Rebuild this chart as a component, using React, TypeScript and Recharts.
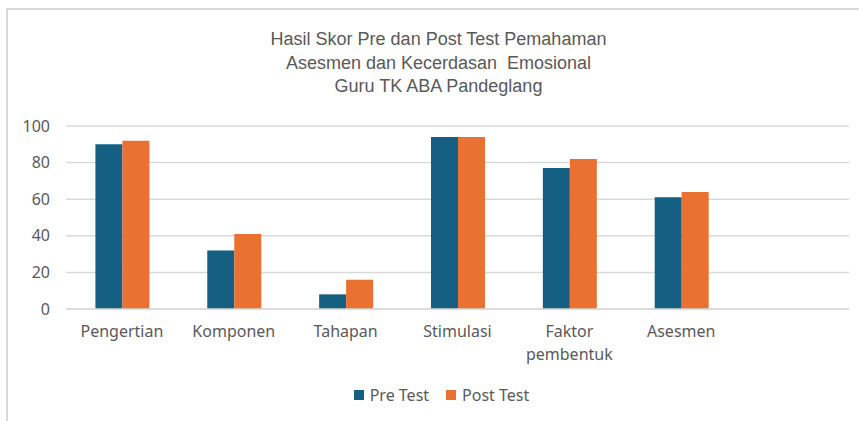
import React from 'react';
import { BarChart, Bar, XAxis, YAxis, CartesianGrid, Legend, Text } from 'recharts';

const categories = ['Pengertian', 'Komponen', 'Tahapan', 'Stimulasi', 'Faktor pembentuk', 'Asesmen', ''];
const preTest = [90, 32, 8, 94, 77, 61, null];
const postTest = [92, 41, 16, 94, 82, 64, null];
const yTicks = [0, 20, 40, 60, 80, 100];
const titleLines = [
  'Hasil Skor Pre dan Post Test Pemahaman',
  'Asesmen dan Kecerdasan  Emosional',
  'Guru TK ABA Pandeglang',
];
const seriesNames = ['Pre Test', 'Post Test'];
const seriesColors = ['#156082', '#E97132'];

const data = categories.map((name, i) => ({ name, pre: preTest[i], post: postTest[i] }));

const TEXT = '#595959';
const GRID = '#d9d9d9';
const FONT = '"Noto Sans", sans-serif';

function CategoryTick(props: any) {
  const { x, y, payload } = props;
  return (
    <Text
      x={x}
      y={y}
      width={100}
      textAnchor="middle"
      verticalAnchor="start"
      lineHeight="1.4em"
      fill={TEXT}
      fontSize={16}
      fontFamily={FONT}
    >
      {payload.value}
    </Text>
  );
}

function LegendContent() {
  return (
    <div style={{ display: 'flex', justifyContent: 'center', gap: 17, fontFamily: FONT, fontSize: 16, color: TEXT }}>
      {seriesNames.map((n, i) => (
        <div key={n} style={{ display: 'flex', alignItems: 'center', gap: 6 }}>
          <span style={{ width: 10, height: 10, background: seriesColors[i], display: 'inline-block' }} />
          <span>{n}</span>
        </div>
      ))}
    </div>
  );
}

export default function App() {
  return (
    <div style={{ position: 'absolute', left: 0, top: 0, width: 859, height: 421, overflow: 'hidden', background: '#fff' }}>
      <div
        style={{
          position: 'absolute',
          left: 6,
          top: 8,
          width: 900,
          height: 500,
          border: `2px solid ${GRID}`,
          boxSizing: 'border-box',
        }}
      />
      <div
        style={{
          position: 'absolute',
          left: 0,
          top: 28,
          width: 877,
          textAlign: 'center',
          fontFamily: '"Liberation Sans", Arial, sans-serif',
          fontSize: 18,
          lineHeight: '23.5px',
          color: TEXT,
          whiteSpace: 'pre',
        }}
      >
        {titleLines.map((l) => (
          <div key={l}>{l}</div>
        ))}
      </div>
      <div style={{ position: 'absolute', left: 0, top: 0 }}>
        <BarChart
          width={859}
          height={421}
          data={data}
          margin={{ top: 126, right: 10, left: 0, bottom: 40 }}
          barCategoryGap="26.3%"
          barGap={0}
        >
          <CartesianGrid vertical={false} stroke={GRID} strokeWidth={1.5} />
          <XAxis
            dataKey="name"
            axisLine={{ stroke: GRID, strokeWidth: 1.5 }}
            tickLine={false}
            tickSize={0}
            tickMargin={17}
            height={50}
            interval={0}
            tick={<CategoryTick />}
          />
          <YAxis
            domain={[0, 100]}
            ticks={yTicks}
            axisLine={false}
            tickLine={false}
            tickSize={0}
            tickMargin={16}
            width={66}
            tick={{ fill: TEXT, fontSize: 16, fontFamily: FONT }}
          />
          <Legend
            verticalAlign="bottom"
            content={<LegendContent />}
            wrapperStyle={{ position: 'absolute', top: 384, left: 12, width: 859 }}
          />
          <Bar dataKey="pre" name={seriesNames[0]} fill={seriesColors[0]} isAnimationActive={false} />
          <Bar dataKey="post" name={seriesNames[1]} fill={seriesColors[1]} isAnimationActive={false} />
        </BarChart>
      </div>
    </div>
  );
}
